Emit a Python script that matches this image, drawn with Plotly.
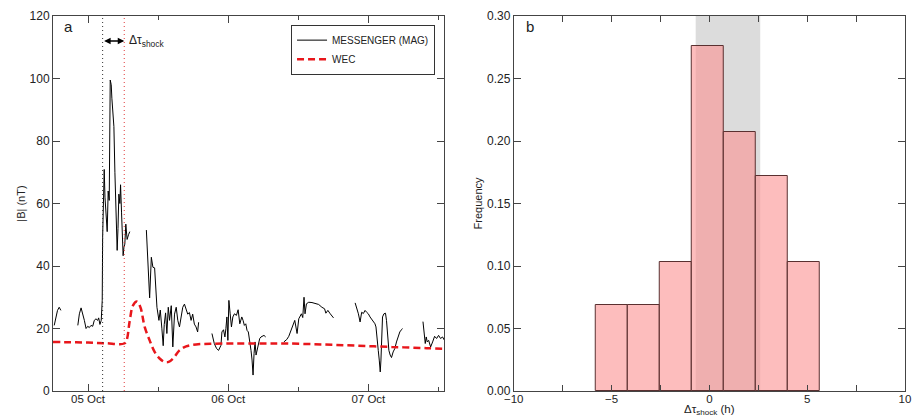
import plotly.graph_objects as go
import pandas as pd

# ---------------- data ----------------
# Panel a: times are hours relative to 05 Oct 00:00, |B| in nT
seg1_t = [-5.79, -5.45, -5.23, -4.94, -4.65]
seg1_b = [21.0, 24.2, 25.8, 26.8, 25.8]

seg2_t = [-1.75, -1.48, -1.19, -0.90, -0.63, -0.34, -0.05, 0.22, 0.51, 0.80,
          1.07, 1.36, 1.65, 1.82, 2.04, 2.26, 2.43, 2.50, 2.60, 2.77,
          2.90, 3.06, 3.18, 3.28, 3.45, 3.63, 3.80, 3.97, 4.08, 4.31,
          4.43, 4.60, 4.77, 4.99, 5.13, 5.28, 5.45, 5.57, 5.74, 5.88,
          6.01, 6.15, 6.30, 6.47, 6.69, 6.93, 7.15]
seg2_b = [21.0, 24.7, 26.6, 24.7, 22.6, 20.0, 20.7, 20.3, 21.0, 20.7,
          22.6, 23.1, 22.6, 23.4, 21.3, 22.6, 29.0, 49.0, 60.0, 70.9,
          62.0, 57.6, 51.2, 51.0, 64.0, 61.0, 99.5, 98.0, 93.7, 89.0,
          84.6, 70.0, 55.0, 45.0, 52.0, 63.0, 60.0, 66.0, 57.0, 48.0,
          43.3, 46.0, 47.0, 53.4, 48.5, 50.0, 51.0]

seg3_t = [9.99, 10.26, 10.55, 10.84, 11.11, 11.40, 11.57, 11.80, 12.14, 12.37,
          12.65, 12.87, 13.05, 13.28, 13.50, 13.74, 13.96, 14.25, 14.52, 14.81,
          15.10, 15.37, 15.66, 15.95, 16.22, 16.51, 16.80, 17.07, 17.36, 17.65,
          17.92, 18.21, 18.50, 18.77, 18.94]
seg3_b = [51.5, 41.7, 29.8, 42.8, 39.6, 39.4, 33.4, 26.8, 22.6, 25.9,
          19.9, 14.5, 21.3, 25.0, 18.4, 26.8, 22.6, 27.3, 14.1, 24.6,
          26.8, 22.6, 20.5, 23.6, 26.8, 27.8, 25.8, 24.6, 25.1, 22.6,
          24.6, 21.4, 20.5, 18.9, 22.0]

seg4_t = [21.22, 21.62, 22.01, 22.35, 22.76, 22.93, 23.20, 23.44, 23.61, 23.78,
          23.95, 24.12, 24.34, 24.56, 24.80, 25.07, 25.41, 25.70, 25.99, 26.33,
          26.55, 26.77, 27.01, 27.23, 27.45, 27.69, 27.91, 28.09, 28.26, 28.43,
          28.60, 28.77, 28.94, 29.16, 29.40, 29.62, 29.84, 30.13, 30.42]
seg4_b = [18.4, 15.2, 13.6, 13.0, 14.6, 18.9, 19.6, 17.3, 20.0, 23.7,
          16.2, 29.0, 24.7, 20.5, 23.7, 24.7, 24.2, 26.0, 21.5, 23.7,
          22.6, 21.0, 21.5, 19.4, 18.9, 16.2, 13.0, 9.9, 5.1, 12.0,
          15.7, 11.5, 13.0, 14.6, 16.8, 17.3, 17.6, 17.8, 17.3]

seg5_t = [33.53, 34.04, 34.38, 34.94, 35.40, 35.80, 36.09, 36.54, 36.77, 36.99,
          37.16, 37.40, 37.79, 38.35, 38.93, 39.49, 40.05, 40.51, 40.73, 41.07,
          41.48, 41.75, 42.04]
seg5_b = [15.7, 16.5, 17.5, 20.5, 22.6, 18.4, 23.1, 24.7, 23.5, 30.0,
          24.7, 27.9, 28.4, 28.3, 28.1, 27.7, 26.8, 26.3, 24.9, 25.8,
          24.7, 24.2, 23.4]

seg6_t = [45.74, 46.01, 46.30, 46.59, 46.86, 47.15, 47.44, 47.71, 48.00, 48.29,
          48.56, 48.85, 49.14, 49.31, 49.53, 49.70, 49.87, 50.04, 50.16, 50.26,
          50.43, 50.67, 50.94, 51.11, 51.28, 51.52, 51.74, 51.97, 52.25, 52.54,
          52.82, 53.11, 53.39, 53.67, 53.84]
seg6_b = [28.2, 26.8, 24.7, 22.1, 25.2, 24.8, 25.8, 25.2, 24.7, 23.7,
          22.9, 22.4, 21.5, 20.5, 17.3, 13.0, 9.9, 6.1, 9.9, 17.3,
          23.7, 24.7, 24.9, 22.6, 17.3, 13.0, 11.5, 10.7, 12.5, 13.6,
          15.7, 17.3, 18.9, 19.6, 20.0]

seg7_t = [57.36, 57.58, 57.75, 57.92, 58.09, 58.33, 58.67, 59.01, 59.35, 59.69,
          60.03, 60.37, 60.71, 61.05]
seg7_b = [22.2, 17.0, 15.2, 17.3, 15.7, 16.2, 14.1, 15.7, 17.5, 16.8,
          17.8, 16.8, 17.3, 16.2]

wec_t = [-6, -3, 0, 3, 6.2, 6.6, 7.15, 7.71, 8.39, 8.97,
         9.70, 10.55, 11.40, 12.26, 13.1, 13.8, 14.6, 15.66, 16.8, 18.5,
         21, 25, 30, 34, 40, 46, 52, 58, 61]
wec_b = [15.7, 15.6, 15.5, 15.3, 15.2, 16.2, 22.6, 27.4, 28.6, 26.8,
         20.5, 16.2, 12.5, 10.4, 9.3, 9.3, 10.5, 13.0, 14.3, 14.9,
         15.1, 15.2, 15.2, 15.2, 14.9, 14.5, 14.1, 13.7, 13.5]

obs_shock_h = 2.5     # observed shock arrival (black dotted)
wec_shock_h = 6.2     # predicted shock arrival (red dotted)
day_ticks = ['05 Oct', '06 Oct', '07 Oct']

# Panel b: histogram of delta tau_shock (h)
bin_edges = [-5.82, -4.18, -2.54, -0.90, 0.74, 2.38, 4.02, 5.66]
frequency = [0.069, 0.069, 0.103, 0.276, 0.207, 0.172, 0.103]
shade_range = [-0.7, 2.6]

# ---------------- build ----------------
BASE = pd.Timestamp('2011-10-05 00:00')


def to_date(h):
    return BASE + pd.Timedelta(hours=h)


segments = [(seg1_t, seg1_b), (seg2_t, seg2_b), (seg3_t, seg3_b), (seg4_t, seg4_b),
            (seg5_t, seg5_b), (seg6_t, seg6_b), (seg7_t, seg7_b)]
mx, my = [], []
for ts, bs in segments:
    assert len(ts) == len(bs)
    mx += [to_date(h) for h in ts] + [None]
    my += list(bs) + [None]

FONT = 'Liberation Sans, Arial, Helvetica, sans-serif'
TXT = '#222222'
AX = '#444444'

fig = go.Figure()
fig.add_trace(go.Scatter(x=mx, y=my, mode='lines', name='MESSENGER (MAG)',
                         line=dict(color='black', width=1), connectgaps=False,
                         xaxis='x', yaxis='y'))
fig.add_trace(go.Scatter(x=[to_date(h) for h in wec_t], y=wec_b, mode='lines', name='WEC',
                         line=dict(color='#e8161b', width=2.5, dash='7px,4px', shape='spline'),
                         xaxis='x', yaxis='y'))

centers = [(bin_edges[i] + bin_edges[i + 1]) / 2 for i in range(len(frequency))]
widths = [bin_edges[i + 1] - bin_edges[i] for i in range(len(frequency))]
fig.add_trace(go.Bar(x=centers, y=frequency, width=widths, showlegend=False,
                     marker=dict(color='rgba(252,145,145,0.6)',
                                 line=dict(color='#5a3030', width=1)),
                     xaxis='x2', yaxis='y2'))

axis_common = dict(showline=True, mirror='ticks', linecolor=AX, linewidth=1,
                   ticks='inside', tickcolor=AX, tickwidth=1, showgrid=False,
                   zeroline=False)
xtickfont = dict(family=FONT, size=11.5, color=TXT)
ytickfont = dict(family=FONT, size=12, color=TXT)

fig.update_layout(
    width=920, height=419,
    margin=dict(l=53, r=9, t=14, b=28),
    paper_bgcolor='white', plot_bgcolor='white',
    font=dict(family=FONT, size=12, color=TXT),
    xaxis=dict(domain=[0, 0.4592], anchor='y', type='date',
               range=[to_date(-6), to_date(61)],
               tickvals=[to_date(24 * i) for i in range(3)], ticktext=day_ticks,
               ticklen=7, tickfont=xtickfont, ticklabelstandoff=-3,
               minor=dict(ticks='inside', ticklen=4, tickcolor=AX,
                          tickvals=[to_date(-12 + 24 * i) for i in range(4)]),
               **axis_common),
    yaxis=dict(domain=[0, 1], anchor='x', range=[0, 120], tickvals=list(range(0, 121, 20)),
               ticklen=7, tickfont=ytickfont, **axis_common),
    xaxis2=dict(domain=[0.5408, 1], anchor='y2', range=[-10, 10],
                tickvals=[-10, -5, 0, 5, 10],
                ticklen=6, tickfont=xtickfont, ticklabelstandoff=-3,
                minor=dict(ticks='inside', ticklen=6, tickcolor=AX,
                           tickvals=[-7.5, -2.5, 2.5, 7.5]),
                **axis_common),
    yaxis2=dict(domain=[0, 1], anchor='x2', range=[0, 0.30],
                tickvals=[0, 0.05, 0.10, 0.15, 0.20, 0.25, 0.30], tickformat='.2f',
                ticklen=7, tickfont=ytickfont, **axis_common),
    legend=dict(x=0.4484, y=0.977, xanchor='right', yanchor='top',
                bgcolor='white', bordercolor='#333', borderwidth=1, itemwidth=30,
                font=dict(family=FONT, size=10, color=TXT), tracegroupgap=0),
    bargap=0,
)

# shaded region and shock lines
fig.add_shape(type='rect', xref='x2', yref='y2', x0=shade_range[0], x1=shade_range[1],
              y0=0, y1=0.30, fillcolor='#dcdcdc', line=dict(width=0), layer='below')
fig.add_shape(type='line', xref='x', yref='y domain', x0=to_date(obs_shock_h),
              x1=to_date(obs_shock_h), y0=0, y1=1,
              line=dict(color='#333', width=1, dash='1px,3px'))
fig.add_shape(type='line', xref='x', yref='y domain', x0=to_date(wec_shock_h),
              x1=to_date(wec_shock_h), y0=0, y1=1,
              line=dict(color='#e03a3a', width=1, dash='1px,3px'))

# double arrow
fig.add_annotation(x=to_date(wec_shock_h), y=112, ax=to_date(obs_shock_h), ay=112,
                   xref='x', yref='y', axref='x', ayref='y', text='', showarrow=True,
                   arrowhead=2, arrowside='end+start', arrowsize=1, arrowwidth=1.3,
                   arrowcolor='black', startarrowhead=2, startarrowsize=1)
fig.add_annotation(x=to_date(wec_shock_h + 0.5), y=112, xref='x', yref='y',
                   text='Δτ<sub>shock</sub>', showarrow=False, xanchor='left',
                   font=dict(family=FONT, size=12, color=TXT))

# axis titles and panel labels
fig.add_annotation(x=-0.0385, y=0.5, xref='paper', yref='paper', text='|B| (nT)',
                   textangle=-90, showarrow=False, xanchor='center', yanchor='middle',
                   font=dict(size=11, color=TXT))
fig.add_annotation(x=0.4988, y=0.5, xref='paper', yref='paper', text='Frequency',
                   textangle=-90, showarrow=False, xanchor='center', yanchor='middle',
                   font=dict(size=11, color=TXT))
fig.add_annotation(x=0.7704, y=-0.0504, xref='paper', yref='paper',
                   text='Δτ<sub>shock</sub> (h)', showarrow=False, yanchor='middle',
                   xanchor='center', font=dict(size=11.5, color=TXT))
fig.add_annotation(x=0.0105, y=0.971, xref='paper', yref='paper', text='a',
                   showarrow=False, xanchor='left', yanchor='middle', font=dict(size=15, color=TXT))
fig.add_annotation(x=0.5524, y=0.971, xref='paper', yref='paper', text='b',
                   showarrow=False, xanchor='left', yanchor='middle', font=dict(size=15, color=TXT))

fig.write_html('out.html')
